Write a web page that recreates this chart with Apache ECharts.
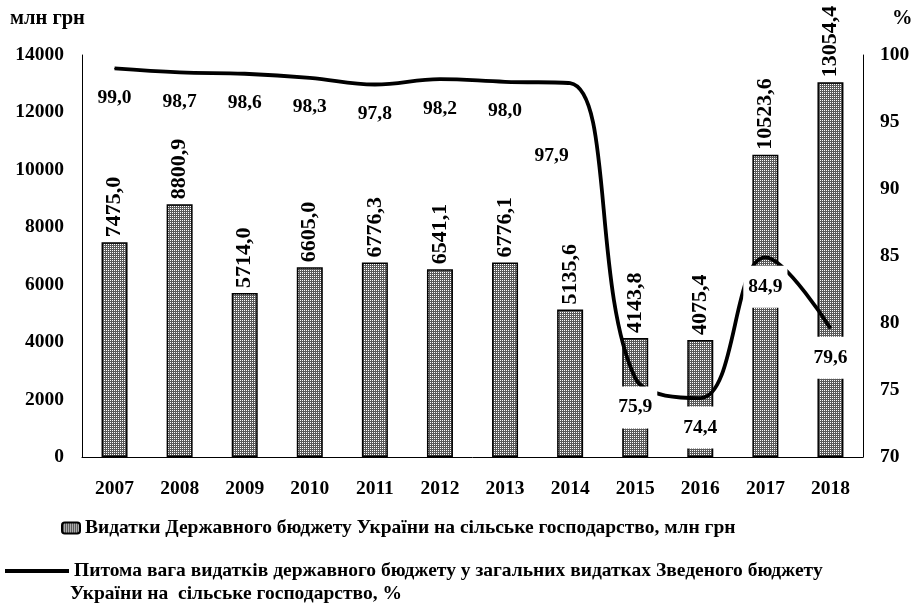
<!DOCTYPE html>
<html>
<head>
<meta charset="utf-8">
<script src="https://cdn.jsdelivr.net/npm/echarts@6/dist/echarts.min.js"></script>
<style>html,body{margin:0;padding:0;background:#fff}#c{width:915px;height:610px}</style>
</head>
<body>
<div id="c"></div>
<script>
const years = ['2007','2008','2009','2010','2011','2012','2013','2014','2015','2016','2017','2018'];
const spending = [7475.0, 8800.9, 5714.0, 6605.0, 6776.3, 6541.1, 6776.1, 5135.6, 4143.8, 4075.4, 10523.6, 13054.4];
const share = [99.0, 98.7, 98.6, 98.3, 97.8, 98.2, 98.0, 97.9, 75.9, 74.4, 84.9, 79.6];
const leftTicks = {min: 0, max: 14000, interval: 2000};
const rightTicks = {min: 70, max: 100, interval: 5};
const barName = 'Видатки Державного бюджету України на сільське господарство, млн грн';
const lineName = 'Питома вага видатків державного бюджету у загальних видатках Зведеного бюджету';
const lineName2 = 'України на  сільське господарство, %';

const FONT = 'Liberation Serif';
const FS = 19.5;
const fmt = v => v.toFixed(1).replace('.', ',');

// hatched pattern
const tile = document.createElement('canvas');
tile.width = 2; tile.height = 2;
const tc = tile.getContext('2d');
tc.fillStyle = '#5a5a5a'; tc.fillRect(0,0,2,2);
tc.fillStyle = '#ffffff'; tc.fillRect(0,0,1,1);
const pattern = {image: tile, repeat: 'repeat'};

const chart = echarts.init(document.getElementById('c'));
const lineData = share.map((v, i) => {
  const item = {value: v};
  if (i === 7) item.label = {position: [-18, 52], align: 'center', verticalAlign: 'top'};
  return item;
});
const txt = {color: '#000', fontFamily: FONT, fontWeight: 'bold', fontSize: FS};
chart.setOption({
  animation: false,
  grid: {left: 82, right: 52, top: 55, bottom: 153, containLabel: false},
  xAxis: {
    type: 'category', data: years,
    axisLine: {lineStyle: {color: '#000', width: 1}},
    axisTick: {show: false},
    axisLabel: Object.assign({margin: 22}, txt)
  },
  yAxis: [{
    type: 'value', min: leftTicks.min, max: leftTicks.max, interval: leftTicks.interval,
    axisLine: {show: true, lineStyle: {color: '#000', width: 1}},
    axisTick: {show: false}, splitLine: {show: false},
    axisLabel: Object.assign({margin: 18, formatter: v => String(v)}, txt)
  }, {
    type: 'value', min: rightTicks.min, max: rightTicks.max, interval: rightTicks.interval,
    position: 'right',
    axisLine: {show: true, lineStyle: {color: '#000', width: 1}},
    axisTick: {show: false}, splitLine: {show: false},
    axisLabel: Object.assign({margin: 17, formatter: v => String(v)}, txt)
  }],
  legend: [{
    data: [{name: barName}],
    left: 56, top: 513, itemWidth: 18, itemHeight: 11, itemGap: 5,
    textStyle: txt
  }, {
    data: [{name: lineName, icon: 'rect'}],
    left: 0, top: 556, itemWidth: 64, itemHeight: 4, itemGap: 4,
    textStyle: txt
  }],
  graphic: [
    {type: 'text', left: 10, top: 8, style: {text: 'млн грн', fill: '#000', font: 'bold 20.5px "Liberation Serif"'}},
    {type: 'text', left: 892, top: 8, style: {text: '%', fill: '#000', font: 'bold 20.5px "Liberation Serif"'}},
    {type: 'text', left: 70, top: 584, style: {text: lineName2, fill: '#000', font: 'bold 19.5px "Liberation Serif"'}}
  ],
  series: [{
    name: barName, type: 'bar', data: spending, barWidth: 26, yAxisIndex: 0,
    itemStyle: {color: pattern, borderColor: '#000', borderWidth: 1.5},
    label: Object.assign({
      show: true, position: 'top', rotate: 90, align: 'left', verticalAlign: 'middle', distance: 5,
      formatter: p => fmt(p.value)
    }, txt, {fontSize: 22})
  }, {
    name: lineName, type: 'line', data: lineData, yAxisIndex: 1, smooth: 0.4,
    symbol: 'circle', symbolSize: 1, showSymbol: true,
    lineStyle: {color: '#000', width: 3.8}, itemStyle: {color: '#000'}, z: 5,
    labelLayout: {hideOverlap: false},
    label: Object.assign({
      show: true, position: 'bottom', distance: 8,
      formatter: p => fmt(p.value),
      backgroundColor: '#fff', padding: [11, 5]
    }, txt)
  }]
});
</script>
</body>
</html>
